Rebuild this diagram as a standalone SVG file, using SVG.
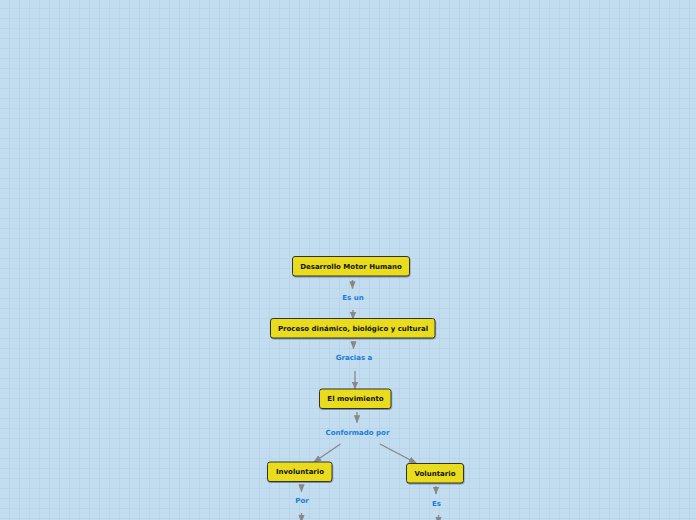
<svg xmlns="http://www.w3.org/2000/svg" width="696" height="520" viewBox="0 0 696 520">
<defs>
<pattern id="grid" x="0" y="0" width="10" height="10" patternUnits="userSpaceOnUse">
<rect width="10" height="10" fill="#c3ddf0"/>
<path d="M9.5 0V10M0 8.5H10" stroke="#bad4e9" stroke-width="1" fill="none"/>
</pattern>
<marker id="ah" viewBox="0 0 10 8" refX="9" refY="4" markerWidth="8" markerHeight="6.4" markerUnits="userSpaceOnUse" orient="auto">
<path d="M0 0L10 4L0 8Z" fill="#888888"/>
</marker>
<filter id="sh" x="-10%" y="-20%" width="120%" height="150%">
<feDropShadow dx="0.5" dy="1" stdDeviation="0.6" flood-color="#000" flood-opacity="0.35"/>
</filter>
</defs>
<style>
.box{fill:#e8dc1c;stroke:#333333;stroke-width:1;filter:url(#sh)}
.nt{font-family:"DejaVu Sans",Verdana,sans-serif;font-weight:bold;font-size:7px;fill:#111111;text-anchor:middle}
.lt{font-family:"DejaVu Sans",Verdana,sans-serif;font-weight:bold;font-size:7px;fill:#1b7bd6;text-anchor:middle}
.cn{stroke:#888888;stroke-width:1.3;fill:none;marker-end:url(#ah)}
</style>
<rect width="696" height="520" fill="url(#grid)"/>
<g id="connectors">
<line class="cn" x1="352.5" y1="280" x2="352.5" y2="288.5"/>
<line class="cn" x1="353" y1="310" x2="353" y2="319"/>
<line class="cn" x1="353.5" y1="341" x2="353.5" y2="348.5"/>
<line class="cn" x1="355" y1="371" x2="355" y2="389"/>
<line class="cn" x1="357" y1="412" x2="357" y2="422.5"/>
<line class="cn" x1="340.5" y1="444" x2="314" y2="462"/>
<line class="cn" x1="380" y1="444" x2="416" y2="463"/>
<line class="cn" x1="301.5" y1="485" x2="301.5" y2="491.5"/>
<line class="cn" x1="301.5" y1="513" x2="301.5" y2="522"/>
<line class="cn" x1="436" y1="486" x2="436" y2="494"/>
<line class="cn" x1="438.5" y1="515" x2="438.5" y2="524"/>
</g>
<g id="n1"><rect class="box" x="292.5" y="256.5" width="117" height="19.5" rx="2.5"/><text class="nt" x="351" y="268.8">Desarrollo Motor Humano</text></g>
<g id="l1"><text class="lt" x="353" y="299.5">Es un</text></g>
<g id="n2"><rect class="box" x="270.5" y="318.5" width="164.5" height="19.5" rx="2.5"/><text class="nt" x="353" y="330.8">Proceso dinámico, biológico y cultural</text></g>
<g id="l2"><text class="lt" x="354" y="359.5">Gracias a</text></g>
<g id="n3"><rect class="box" x="319.5" y="389" width="71.5" height="19.5" rx="2.5"/><text class="nt" x="355.5" y="401.3">El movimiento</text></g>
<g id="l3"><text class="lt" x="357.5" y="434.5">Conformado por</text></g>
<g id="n4"><rect class="box" x="267.5" y="462" width="64.5" height="19.5" rx="2.5"/><text class="nt" x="300" y="474.3">Involuntario</text></g>
<g id="l4"><text class="lt" x="302" y="502.5">Por</text></g>
<g id="n5"><rect class="box" x="406.5" y="463.5" width="57" height="19.5" rx="2.5"/><text class="nt" x="435" y="475.8">Voluntario</text></g>
<g id="l5"><text class="lt" x="436.5" y="505.5">Es</text></g>
</svg>
